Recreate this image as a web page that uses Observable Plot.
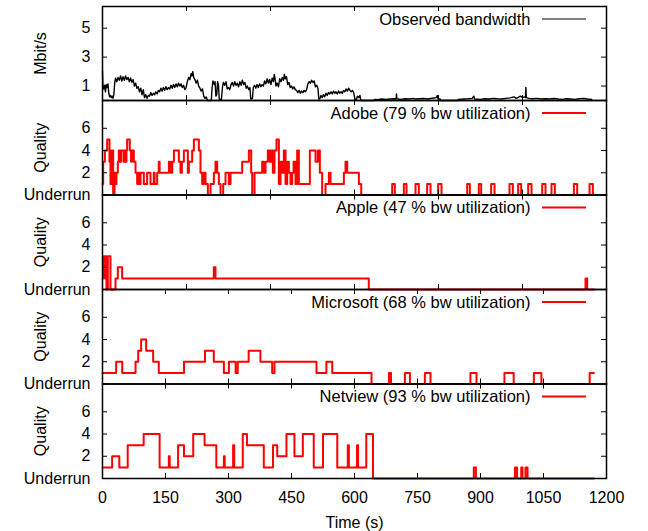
<!DOCTYPE html>
<html><head><meta charset="utf-8">
<script src="https://cdn.jsdelivr.net/npm/d3@7"></script>
<script src="https://cdn.jsdelivr.net/npm/@observablehq/plot@0.6"></script>
<style>
body{margin:0;background:#fff;}
#chart{position:relative;width:648px;height:531px;}
#chart svg{position:absolute;left:0;top:0;}
</style></head><body><div id="chart"></div>
<script>
// ---- data ----
const bwTime = [
0,1,3,5,7,9,11,13,15,17,
19,21,23,25,27,29,31,34,37,40,
43,46,49,52,55,58,61,64,67,70,
73,76,79,82,85,88,91,94,97,100,
103,106,109,112,115,118,121,124,127,130,
133,136,139,142,145,148,151,154,157,160,
163,166,169,172,175,178,181,184,187,190,
193,196,199,202,205,208,211,213,215,217,
220,223,226,229,232,235,238,241,244,247,
250,259,261,263,266,268,270,272,274,276,
278,283,286,288,291,294,297,300,303,306,
309,312,315,318,321,324,327,330,333,336,
339,342,345,348,351,353,357,359,362,365,
368,371,374,377,380,383,386,389,392,395,
398,401,404,407,409,411,413,416,419,422,
425,428,431,433,435,438,441,444,447,450,
453,456,459,462,465,468,471,474,477,480,
483,486,489,492,495,498,501,504,507,510,
513,515,518,520,523,526,529,532,535,538,
541,544,547,550,553,556,559,562,565,568,
571,574,577,580,583,586,589,592,595,598,
601,604,607,610,613,615,646,648,655,665,
675,685,695,699,700,701,710,720,730,740,
745,755,765,775,785,795,797,799,804,805,
845,848,860,870,880,884,886,900,910,920,
930,940,950,960,970,980,985,990,995,1000,
1005,1007,1008,1009,1015,1025,1035,1045,1055,1065,
1075,1085,1095,1105,1115,1125,1135,1145,1155,1165];
const bwMbits = [
2.05,1.0,0.8,1.05,0.6,1.1,0.9,1.15,0.5,0.25,
0.35,0.2,0.3,0.15,0.4,1.2,1.55,1.3,1.6,1.4,
1.7,1.35,1.65,1.4,1.7,1.45,1.6,1.3,1.55,1.25,
1.45,1.0,1.2,0.85,0.95,0.6,0.85,0.4,0.75,0.2,
0.4,0.15,0.35,0.3,0.55,0.35,0.5,0.4,0.6,0.45,
0.7,0.6,0.85,0.65,0.9,0.7,0.95,0.75,0.9,0.8,
1.05,0.85,1.1,0.9,1.15,0.95,1.2,1.0,1.15,0.9,
1.05,0.75,0.9,1.3,1.6,1.45,1.85,1.7,2.0,1.6,
1.45,1.2,1.4,1.0,0.85,0.65,0.8,0.3,0.15,0.25,
0,0,0.9,1.35,1.1,1.3,0.3,0.4,1.3,1.1,
0.1,0.05,1.0,1.25,1.05,1.3,0.8,0.9,0.75,1.1,
1.25,1.0,1.3,1.05,1.2,0.95,1.3,1.05,1.4,1.1,
1.25,0.85,1.0,0.75,0.9,0.1,0.15,0.9,1.05,0.85,
1.1,0.9,1.15,0.95,1.1,1.0,1.35,1.15,1.5,1.2,
1.45,1.1,1.55,1.3,1.8,1.5,1.0,1.2,0.95,1.5,
1.3,1.6,1.4,1.8,1.5,1.65,1.1,1.25,0.9,1.0,
0.8,0.95,0.75,0.7,0.55,0.7,0.5,0.65,0.55,0.7,
0.6,0.75,1.15,1.3,1.2,1.4,1.25,1.35,0.95,1.05,
0.85,0.1,0.15,0.35,0.2,0.4,0.25,0.5,0.35,0.55,
0.45,0.6,0.45,0.65,0.5,0.6,0.45,0.65,0.5,0.6,
0.5,0.7,0.6,0.8,0.65,0.85,0.7,0.6,0.7,0.55,
0.1,0.05,0.3,0.2,0.35,0,0,0.08,0.05,0.1,
0.07,0.1,0.12,0.1,0.45,0.12,0.08,0.12,0.1,0.15,
0.1,0.12,0.14,0.1,0.16,0.2,0.35,0.12,0.1,0,
0,0.08,0.1,0.12,0.15,0.3,0.1,0.08,0.12,0.1,
0.15,0.12,0.1,0.15,0.18,0.25,0.15,0.22,0.3,0.2,
0.25,0.2,0.9,0.2,0.15,0.12,0.15,0.1,0.12,0.1,
0.14,0.1,0.08,0.12,0.1,0.08,0.12,0.15,0.1,0.08];

const adobeTime = [
0,1.6,5.6,11.1,16.7,19,21.4,25.4,28.6,31,
33.3,36.5,38.9,42,44,50,52,55,57,58.7,
65,68,70,74.6,78.6,82.5,86,88,90.5,98.4,
106.3,114.3,122,124,130.2,134,136,158,162,166,
170,181.8,185.7,189,193.7,203.2,205.6,213.5,217.5,229.4,
233.3,237.3,241.3,245.3,250.8,257.2,265.1,269,273,277,
281,287.3,292.9,300.8,304.8,332.6,348.5,354,356.4,362,
380.2,384.2,388.1,393.7,398.5,401.6,405.6,409.6,414.3,419.9,
423.9,427.8,431.8,435.8,439.7,443.7,447.7,451.6,455,459.6,
463.5,467.5,493.7,507.2,512.8,517.5,523,531,539,542.9,
574.7,578.6,582.6,610.4,616,689.7,696,717.5,723.8,745.3,
753.2,773,781,799.2,807.2,868.3,874.6,896,901.6,925.4,
933.4,969,977,989.7,996.9,1013.5,1021.5,1046.9,1054.8,1069,
1077,1122.3,1130.2,1159.6,1167.5,1170];
const adobeQuality = [
1,3,4,5,3,1,4,0,2,1,
2,3,4,3,4,3,4,3,4,5,
4,3,4,3,2,1,2,1,2,1,
2,1,2,1,2,3,2,3,2,3,
4,3,2,3,4,2,3,4,5,4,
2,1,2,1,0,1,2,3,2,1,
0,1,2,1,2,3,4,2,0,2,
3,2,3,4,3,4,2,4,5,1,
3,2,4,1,3,2,1,2,3,1,
4,1,4,3,4,2,0,1,2,1,
2,3,2,1,0,1,0,1,0,1,
0,1,0,1,0,1,0,1,0,1,
0,1,0,1,0,1,0,1,0,1,
0,1,0,1,0,0];

const appleTime = [0,1.6,5.6,8,9.5,12.7,19,31,36.5,46.8,265,269,634,1150,1154,1170];
const appleQuality = [1,3,1,3,0,3,0,1,2,1,2,1,0,1,0,0];

const msTime = [0,32.5,47,78.6,85,92,104,120.6,134,194,244,265,289,301,317,322,348,376,404,409.5,509.5,533,547,640.5,682,687,720,732,767.5,781,876,890.5,957,979,1027,1045,1160,1170];
const msQuality = [1,2,1,2,3,4,3,2,1,2,3,2,1,2,1,2,3,2,1,2,1,2,1,0,1,0,1,0,1,0,1,0,1,0,1,0,1,1];

const netTime = [0,23,40,60,98,136,158,160,180,194,216,243,271,289,291,311,313.5,334,344,384,406,416,438,457,477,503,525,559,584,586.5,606,608.5,628,644,884,889,982,987,997,1000,1007,1012,1170];
const netQuality = [1,2,1,3,4,1,2,1,3,2,4,3,1,2,1,3,1,4,3,1,3,2,4,2,4,1,4,1,3,1,3,1,4,0,1,0,1,0,1,0,1,0,0];

const bwTicks = [1,3,5];
const qualityTicks = [0,2,4,6];
const qualityTickLabels = ["Underrun","2","4","6"];
const xTicks200 = [0,200,400,600,800,1000,1200];
const xTicks150 = [0,150,300,450,600,750,900,1050,1200];

// ---- layout ----
const W = 648, H = 531, ML = 102, MR = 42;
const FONT = "'Liberation Sans', Arial, Helvetica, sans-serif";
const chart = document.getElementById("chart");

function panel(o) {
  const fh = o.bottom - o.top, fw = W - ML - MR;
  const data = o.time.map((t, i) => ({t, v: o.value[i]}));
  const marks = [
    Plot.line(data, {x: "t", y: "v", stroke: o.stroke, strokeWidth: o.sw, curve: o.curve}),
    Plot.tickX(o.xTicks, {x: d => d, insetTop: fh - 5, stroke: "black"}),
    Plot.tickX(o.xTicks, {x: d => d, insetBottom: fh - 5, stroke: "black"}),
    Plot.tickY(o.yTicks, {y: d => d, insetRight: fw - 5, stroke: "black"}),
    Plot.tickY(o.yTicks, {y: d => d, insetLeft: fw - 5, stroke: "black"}),
    Plot.frame({stroke: "black", strokeWidth: 1.5}),
    Plot.axisY({anchor: "left", ticks: o.yTicks, tickFormat: o.yFormat, tickSize: 0, tickPadding: 12, fontSize: 16, label: null}),
    Plot.text([o.yTitle], {frameAnchor: "left", rotate: -90, dx: -62, textAnchor: "middle", lineAnchor: "middle", fontSize: 16, fill: "black"}),
    Plot.text([o.legend], {frameAnchor: "top-right", dx: -76, dy: 13, textAnchor: "end", lineAnchor: "middle", fontSize: 16.5, fill: "black"})
  ];
  if (o.xLabels) {
    marks.push(
      Plot.axisX({anchor: "bottom", ticks: o.xTicks, tickFormat: d => String(d), tickSize: 0, tickPadding: 13, fontSize: 16, label: null}),
      Plot.text(["Time (s)"], {frameAnchor: "bottom", dy: 44, lineAnchor: "middle", fontSize: 16, fill: "black"})
    );
  }
  const svg = Plot.plot({
    width: W, height: H,
    marginLeft: ML, marginRight: MR, marginTop: o.top, marginBottom: H - o.bottom,
    style: {background: "transparent", fontFamily: FONT, fontSize: "16px", color: "black", overflow: "visible"},
    x: {domain: [0, 1200], axis: o.xLabels ? undefined : null},
    y: {domain: o.yDomain},
    marks
  });
  d3.select(svg).append("line")
    .attr("x1", 542).attr("x2", 586)
    .attr("y1", o.top + 13).attr("y2", o.top + 13)
    .attr("stroke", o.stroke).attr("stroke-width", o.legendWidth || o.sw);
  chart.appendChild(svg);
}

const qFmt = d => qualityTickLabels[qualityTicks.indexOf(d)];
const red = "#ff0000";

panel({top: 6, bottom: 100, time: bwTime, value: bwMbits, stroke: "black", sw: 1.4, legendWidth: 1, curve: "linear",
  yDomain: [0, 6.5], yTicks: bwTicks, yFormat: d => String(d), yTitle: "Mbit/s",
  xTicks: xTicks200, legend: "Observed bandwidth"});
panel({top: 100, bottom: 194.5, time: adobeTime, value: adobeQuality, stroke: red, sw: 2, curve: "step-after",
  yDomain: [0, 8.5], yTicks: qualityTicks, yFormat: qFmt, yTitle: "Quality",
  xTicks: xTicks200, legend: "Adobe (79 % bw utilization)"});
panel({top: 194.5, bottom: 289, time: appleTime, value: appleQuality, stroke: red, sw: 2, curve: "step-after",
  yDomain: [0, 8.5], yTicks: qualityTicks, yFormat: qFmt, yTitle: "Quality",
  xTicks: xTicks200, legend: "Apple (47 % bw utilization)"});
panel({top: 289, bottom: 383.5, time: msTime, value: msQuality, stroke: red, sw: 2, curve: "step-after",
  yDomain: [0, 8.5], yTicks: qualityTicks, yFormat: qFmt, yTitle: "Quality",
  xTicks: xTicks150, legend: "Microsoft (68 % bw utilization)"});
panel({top: 383.5, bottom: 478, time: netTime, value: netQuality, stroke: red, sw: 2, curve: "step-after",
  yDomain: [0, 8.5], yTicks: qualityTicks, yFormat: qFmt, yTitle: "Quality",
  xTicks: xTicks150, legend: "Netview (93 % bw utilization)", xLabels: true});
</script>
</body></html>
